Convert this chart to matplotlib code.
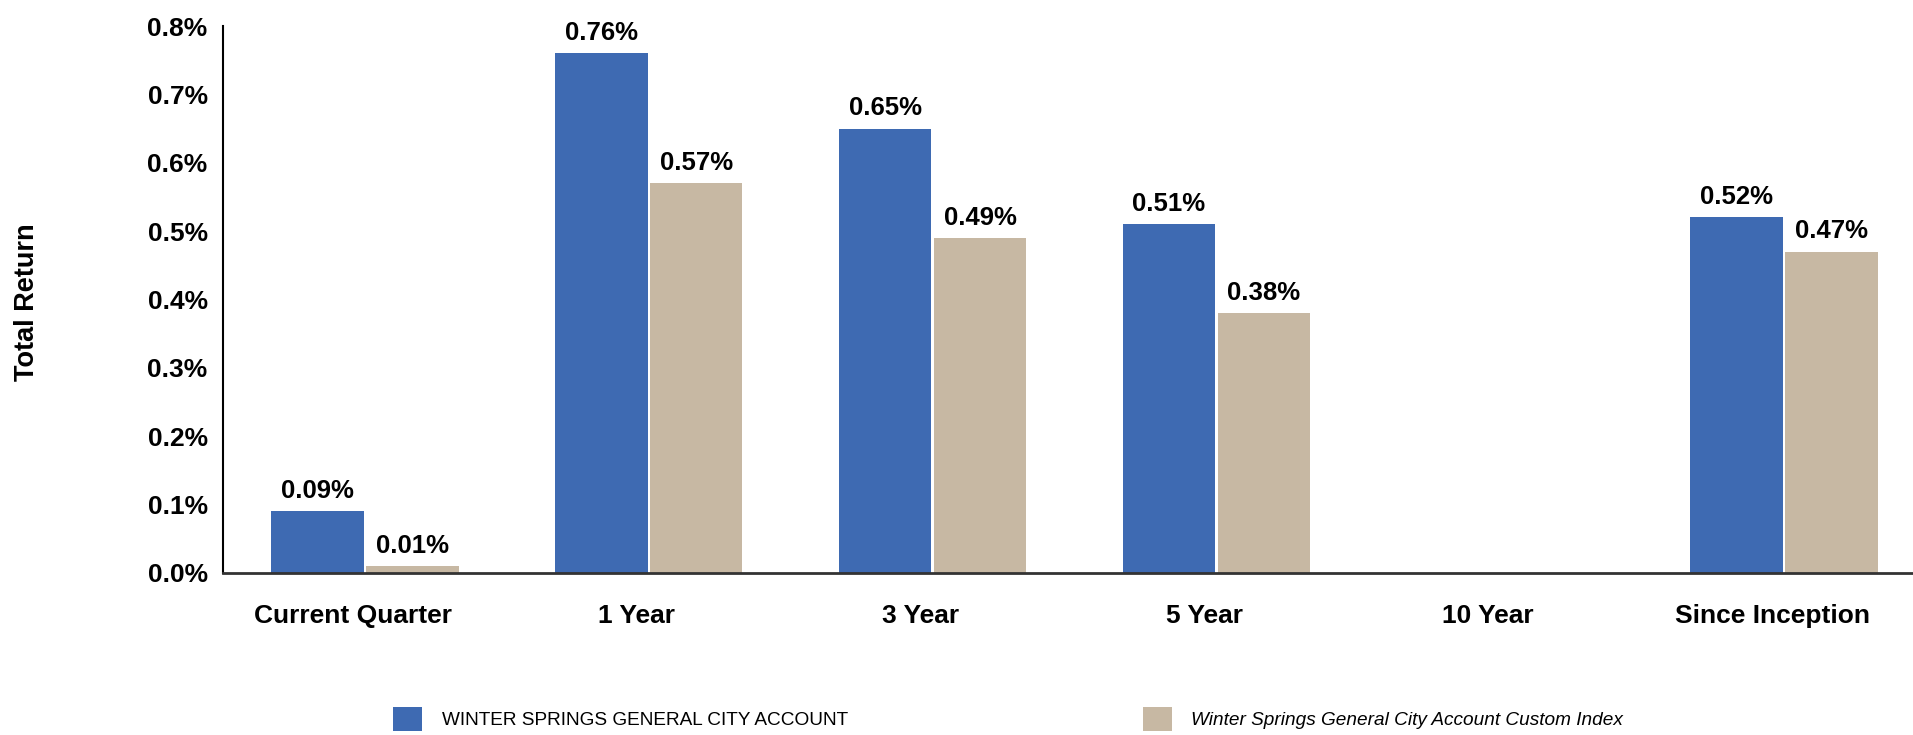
import matplotlib.pyplot as plt
import matplotlib.transforms as mtransforms
import numpy as np

plt.rcParams['font.family'] = ['Liberation Sans', 'DejaVu Sans']

# Chart data
categories = ['Current Quarter', '1 Year', '3 Year', '5 Year', '10 Year', 'Since Inception']
account_returns = [0.09, 0.76, 0.65, 0.51, np.nan, 0.52]
index_returns = [0.01, 0.57, 0.49, 0.38, np.nan, 0.47]
series_names = ['WINTER SPRINGS GENERAL CITY ACCOUNT',
                'Winter Springs General City Account Custom Index']
y_ticks = [0.0, 0.1, 0.2, 0.3, 0.4, 0.5, 0.6, 0.7, 0.8]

blue = '#3E6AB2'
tan = '#C7B8A3'

fig = plt.figure(figsize=(19.13, 7.35), dpi=100)
W, H = 1913, 735
ax = fig.add_axes([223 / W, (H - 573) / H, (W - 223) / W, (573 - 26) / H])

x = np.arange(len(categories))
width = 0.326
off = 0.167
bars1 = ax.bar(x - off, account_returns, width, color=blue, label=series_names[0])
bars2 = ax.bar(x + off, index_returns, width, color=tan, label=series_names[1])

# Value labels above each bar
for bars, vals in ((bars1, account_returns), (bars2, index_returns)):
    for b, v in zip(bars, vals):
        if np.isnan(v):
            continue
        ax.annotate(f'{v:.2f}%', (b.get_x() + b.get_width() / 2, v),
                    xytext=(0, 6), textcoords='offset points',
                    ha='center', va='bottom', fontsize=18.5, fontweight='bold')

ax.set_xlim(-0.5, 5.5 - 13 / 283.8)
ax.set_ylim(0, 0.8)
ax.set_yticks(y_ticks)
ax.set_yticklabels([f'{t:.1f}%' for t in y_ticks], fontsize=19, fontweight='bold')
ax.set_xticks(x)
ax.set_xticklabels(categories, fontsize=19, fontweight='bold')
ax.tick_params(axis='y', length=0, pad=11)
ax.tick_params(axis='x', length=0, pad=22)

# category labels sit a little left of the bar pairs in the original
shift = mtransforms.ScaledTranslation(-0.12, 0, fig.dpi_scale_trans)
for lbl in ax.get_xticklabels():
    lbl.set_transform(lbl.get_transform() + shift)

for s in ('top', 'right'):
    ax.spines[s].set_visible(False)
ax.spines['left'].set_color('black')
ax.spines['left'].set_linewidth(1.5)
ax.spines['bottom'].set_color('#333333')
ax.spines['bottom'].set_linewidth(2)

fig.text(27 / W, (H - 302) / H, 'Total Return', rotation=90, ha='center', va='center',
         fontsize=19.5, fontweight='bold')

leg = fig.legend(loc='center left', bbox_to_anchor=(393 / W, (H - 719) / H),
                 bbox_transform=fig.transFigure, ncol=2, frameon=False,
                 fontsize=13.7, handlelength=1.55, handleheight=1.5,
                 handletextpad=1.0, columnspacing=15.5, borderpad=0, borderaxespad=0)
leg.get_texts()[1].set_style('italic')

fig.savefig('out.png', dpi=100)
